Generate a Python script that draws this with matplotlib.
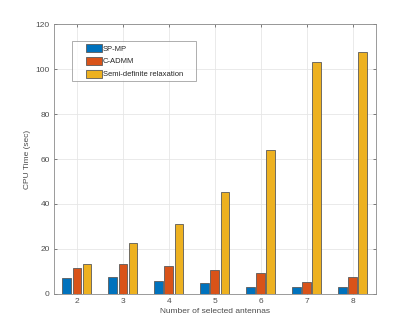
import numpy as np
import matplotlib.pyplot as plt
from matplotlib.patches import Rectangle
from matplotlib.container import BarContainer
from matplotlib.legend_handler import HandlerPatch, update_from_first_child

plt.rcParams['font.family'] = ['Liberation Sans', 'DejaVu Sans']

antennas = [2, 3, 4, 5, 6, 7, 8]
sp_mp = [7.0, 7.4, 5.5, 4.8, 2.8, 2.8, 2.8]
c_admm = [11.4, 13.1, 12.2, 10.6, 9.1, 5.1, 7.4]
sdr = [13.1, 22.4, 30.9, 45.2, 64.0, 103.1, 107.7]

series = [("SP-MP", sp_mp, "#0072BD"),
          ("C-ADMM", c_admm, "#D95319"),
          ("Semi-definite relaxation", sdr, "#EDB120")]


def indented_patch(legend, orig_handle, xdescent, ydescent, width, height, fontsize):
    # MATLAB-style legend swatch: indented from the box edge
    off = 1.44 * fontsize
    return Rectangle((-xdescent + off, -ydescent), width - off, height)


fig = plt.figure(figsize=(4.15, 3.3), dpi=100)
ax = fig.add_axes([0.13, 0.11, 0.775, 0.816])

x = np.array(antennas)
width = 0.19
offsets = [-0.22, 0.0, 0.22]
for (name, vals, col), off in zip(series, offsets):
    ax.bar(x + off, vals, width, color=col, edgecolor="#5a5a5a",
           linewidth=0.6, label=name, zorder=3)

ax.set_xlim(1.5, 8.5)
ax.set_ylim(0, 120)
ax.set_xticks(antennas)
ax.set_yticks(range(0, 121, 20))

axc = "#4d4d4d"
ax.grid(True, color="#e6e6e6", linewidth=0.6, zorder=0)
ax.tick_params(direction="in", top=True, right=True, length=2.5, width=0.5,
               colors=axc, labelsize=6, pad=3)
for s in ax.spines.values():
    s.set_color("#8a8a8a")
    s.set_linewidth(0.6)

ax.set_xlabel("Number of selected antennas", fontsize=6, color=axc, labelpad=2.5)
ax.set_ylabel("CPU Time (sec)", fontsize=6, color=axc, labelpad=3)

handler = HandlerPatch(patch_func=indented_patch, update_func=update_from_first_child)
leg = ax.legend(loc="upper left", bbox_to_anchor=(0.055, 0.939, 0.386, 0.0),
                mode="expand", fontsize=5.5, frameon=True, fancybox=False,
                handlelength=3.53, handleheight=1.24, handletextpad=0.13,
                labelspacing=0.55, borderpad=0.42, borderaxespad=0,
                handler_map={BarContainer: handler})
leg.get_frame().set_edgecolor("#8a8a8a")
leg.get_frame().set_linewidth(0.6)
for t in leg.get_texts():
    t.set_color("#262626")

fig.savefig("out.png", dpi=100)
